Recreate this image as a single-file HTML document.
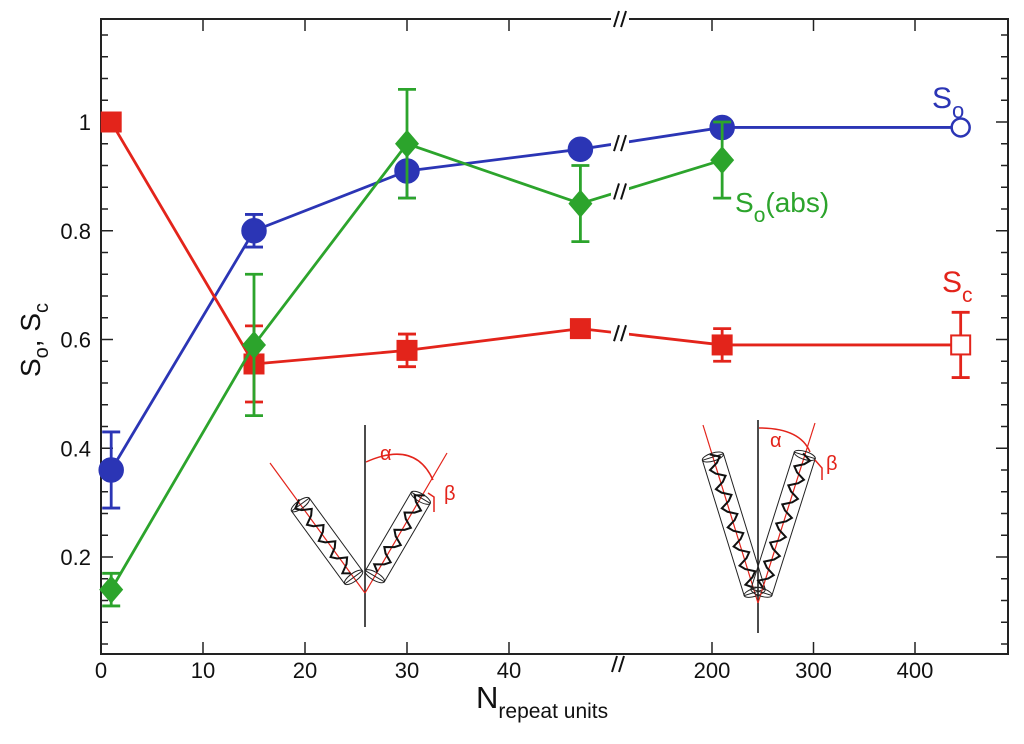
<!DOCTYPE html>
<html><head><meta charset="utf-8"><style>
html,body{margin:0;padding:0;background:#fff;}
svg{display:block;font-family:"Liberation Sans",Arial,sans-serif;}
</style></head><body>
<svg id="chart" width="1024" height="744" viewBox="0 0 1024 744">
<g id="frame"></g>
<g id="axes"></g>
<g id="insets"></g>
<g id="series"></g>
<text x="0" y="0" transform="translate(40,340) rotate(-90)" text-anchor="middle" font-size="28" fill="#111">S<tspan font-size="20" dy="8">o</tspan><tspan dy="-8">, S</tspan><tspan font-size="20" dy="8">c</tspan></text>
<text x="476" y="708" font-size="31" fill="#111">N<tspan font-size="21" dy="10">repeat units</tspan></text>
<text x="932" y="108" font-size="30" fill="#2b35b5">S<tspan font-size="22" dy="10">o</tspan></text>
<text x="735" y="212" font-size="28" fill="#2ca42c">S<tspan font-size="21" dy="10">o</tspan><tspan dy="-10">(abs)</tspan></text>
<text x="942" y="292" font-size="30" fill="#e3241b">S<tspan font-size="21" dy="10">c</tspan></text>
</svg>
<script>
const xCats = [1, 15, 30, 47, 210, 445];
const soVals = [0.36, 0.80, 0.91, 0.95, 0.99, 0.99];
const soErr = [0.07, 0.03, 0.05, 0, 0, 0];
const scVals = [1.0, 0.555, 0.58, 0.62, 0.59, 0.59];
const scErr = [0, 0.07, 0.03, 0, 0.03, 0.06];
const absX = [1, 15, 30, 47, 210];
const absVals = [0.14, 0.59, 0.96, 0.85, 0.93];
const absErr = [0.03, 0.13, 0.10, 0.07, 0.07];
const xTicksLow = [0, 10, 20, 30, 40];
const xTicksHigh = [200, 300, 400];
const yTicks = [0.2, 0.4, 0.6, 0.8, 1];

const L=101, R=1008, T=19, B=654;
function xs(n){ return n<=100 ? 101 + n*10.2 : 712 + (n-200)*1.015; }
function ys(v){ return 665.75 - v*543.75; }
const NS="http://www.w3.org/2000/svg";
function mk(tag, attrs, parent){ const e=document.createElementNS(NS,tag); for(const k in attrs) e.setAttribute(k,attrs[k]); parent.appendChild(e); return e; }

const frame=document.getElementById('frame');
const r=mk('rect',{x:L,y:T,width:R-L,height:B-T,fill:'none',stroke:'#222','stroke-width':2},frame);



const axes=document.getElementById('axes');
for(let v=0.04; v<1.19; v+=0.04){
  const y=ys(v); const major=Math.abs(v*5-Math.round(v*5))<0.01;
  const len=major?12:7;
  const t1=mk('line',{x1:L,y1:y,x2:L+len,y2:y,stroke:'#222','stroke-width':1.5},axes);
  
  
  const t2=mk('line',{x1:R,y1:y,x2:R-len,y2:y,stroke:'#222','stroke-width':1.5},axes);
  
  
}
yTicks.forEach(v=>{
  const t=mk('text',{x:L-10,y:ys(v)+8,'text-anchor':'end','font-size':22,fill:'#111'},axes);
  t.textContent = v===1?'1':v.toFixed(1);
  
  
});
xTicksLow.concat(xTicksHigh).forEach(n=>{
  const x=xs(n);
  if(n!==0){
    const a=mk('line',{x1:x,y1:B,x2:x,y2:B-12,stroke:'#222','stroke-width':1.5},axes);
    
    
    const b=mk('line',{x1:x,y1:T,x2:x,y2:T+12,stroke:'#222','stroke-width':1.5},axes);
    
    
  }
  const t=mk('text',{x:x,y:B+24,'text-anchor':'middle','font-size':22,fill:'#111'},axes);
  t.textContent=n;
  
  
});
function brk(x,y,parent,col){
  const g=mk('g',{},parent);
  
  
  mk('rect',{x:x-9,y:y-7,width:18,height:14,fill:'#fff'},g);
  mk('line',{x1:x-6,y1:y+8,x2:x-1,y2:y-8,stroke:col,'stroke-width':2},g);
  mk('line',{x1:x+1,y1:y+8,x2:x+6,y2:y-8,stroke:col,'stroke-width':2},g);
}
brk(618,B+10,axes,'#111'); brk(620,T,axes,'#111');

const ins=document.getElementById('insets');
function inset(cx, apexY, topY, bot, lTop, rTop, cyl, name){
  const g=mk('g',{},ins);
  
  
  mk('line',{x1:cx,y1:topY,x2:cx,y2:bot,stroke:'#111','stroke-width':1.5},g);
  [lTop,rTop].forEach((p,i)=>{
    mk('line',{x1:cx,y1:apexY,x2:p[0],y2:p[1],stroke:'#e3241b','stroke-width':1.2},g);
    const dx=p[0]-cx, dy=p[1]-apexY, len=Math.hypot(dx,dy);
    const ang=Math.atan2(dy,dx)*180/Math.PI;
    const c=mk('g',{transform:`translate(${cx},${apexY}) rotate(${ang})`},g);
    const s=cyl[0]*len, e=cyl[1]*len, w=cyl[2];
    mk('rect',{x:s,y:-w/2,width:e-s,height:w,fill:'none',stroke:'#222','stroke-width':1},c);
    mk('ellipse',{cx:s,cy:0,rx:4,ry:w/2,fill:'none',stroke:'#222','stroke-width':1},c);
    mk('ellipse',{cx:e,cy:0,rx:4,ry:w/2,fill:'none',stroke:'#222','stroke-width':1},c);
    let d=`M${s+5},0`; let k=0;
    for(let q=s+5;q<e-5;q+=10){ d+=` L${q+5},${(k%2?1:-1)*w*0.3} L${q+10},${(k%2?-1:1)*w*0.1}`; k++; }
    mk('path',{d:d,fill:'none',stroke:'#111','stroke-width':2},c);
  });
}
inset(365,593,425,627,[270,463],[447,453],[0.12,0.68,22],'inset-small-alpha');
inset(758,603,420,633,[703,425],[815,423],[0.06,0.82,22],'inset-large-alpha');
const arcs=[['M366,462 Q415,440 433,480','M428,493 L434,497 L434,512',380,460,444,500],['M759,428 Q800,428 810,452','M815,460 L822,468 L822,480',770,447,826,470]];
arcs.forEach((a,i)=>{
  const g=mk('g',{},ins);
  
  
  mk('path',{d:a[0],fill:'none',stroke:'#e3241b','stroke-width':1.5},g);
  mk('path',{d:a[1],fill:'none',stroke:'#e3241b','stroke-width':1.5},g);
  const t1=mk('text',{x:a[2],y:a[3],'font-size':20,fill:'#e3241b'},g); t1.textContent='α';
  const t2=mk('text',{x:a[4],y:a[5],'font-size':20,fill:'#e3241b'},g); t2.textContent='β';
});

const ser=document.getElementById('series');
function errbars(xv,vals,errs,col,g){
  xv.forEach((n,i)=>{ if(!errs[i]) return;
    const x=xs(n), y1=ys(vals[i]-errs[i]), y2=ys(vals[i]+errs[i]);
    const e=mk('path',{d:`M${x},${y1}V${y2}M${x-9},${y1}h18M${x-9},${y2}h18`,stroke:col,'stroke-width':2.8,fill:'none'},g);
    
    
  });
}
function line(xv,vals,col,g){
  const d=xv.map((n,i)=>(i?'L':'M')+xs(n)+','+ys(vals[i])).join(' ');
  const p=mk('path',{d:d,stroke:col,'stroke-width':2.8,fill:'none'},g);
  
  
  const i=xv.indexOf(47);
  if(i>=0 && i+1<xv.length){
    const xa=xs(xv[i]),xb=xs(xv[i+1]),ya=ys(vals[i]),yb=ys(vals[i+1]);
    const f=(620-xa)/(xb-xa); brk(620,ya+(yb-ya)*f,g,'#111');
  }
}
const cB='#2b35b5', cR='#e3241b', cG='#2ca42c';
const gB=mk('g',{},ser);  
const gR=mk('g',{},ser);  
const gG=mk('g',{},ser);  
line(xCats,scVals,cR,gR); errbars(xCats,scVals,scErr,cR,gR);
xCats.forEach((n,i)=>{ const last=i===xCats.length-1;
  const m=mk('rect',{x:xs(n)-9.5,y:ys(scVals[i])-9.5,width:19,height:19,fill:last?'#fff':cR,stroke:cR,'stroke-width':2},gR);
    });
line(xCats,soVals,cB,gB); errbars(xCats,soVals,soErr,cB,gB);
xCats.forEach((n,i)=>{ const last=i===xCats.length-1;
  const m=mk('circle',{cx:xs(n),cy:ys(soVals[i]),r:last?9:11.5,fill:last?'#fff':cB,stroke:cB,'stroke-width':2.5},gB);
    });
line(absX,absVals,cG,gG); errbars(absX,absVals,absErr,cG,gG);
absX.forEach((n,i)=>{ const x=xs(n), y=ys(absVals[i]);
  const m=mk('polygon',{points:`${x},${y-14} ${x+12},${y} ${x},${y+14} ${x-12},${y}`,fill:cG},gG);
    });
</script>
</body></html>
